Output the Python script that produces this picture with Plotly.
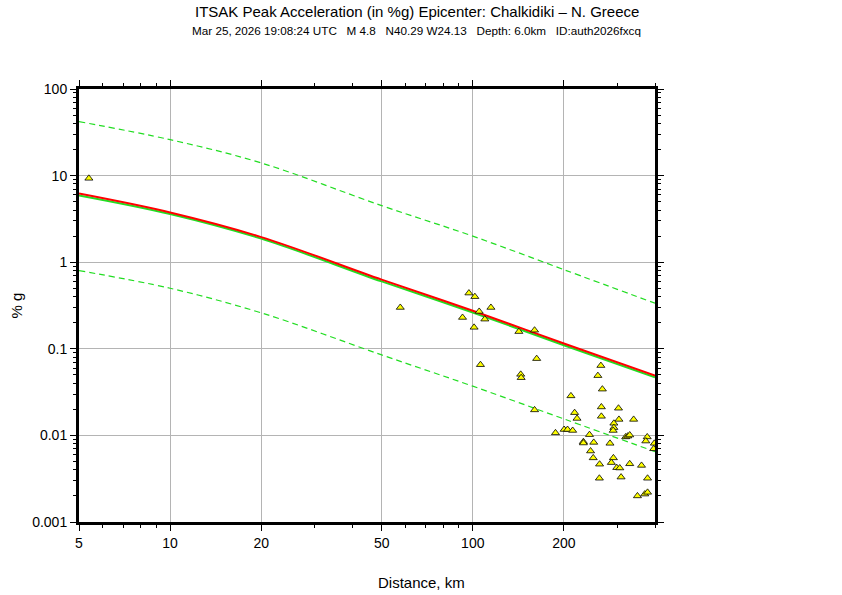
import numpy as np
import plotly.graph_objects as go

curve_dist = [5, 10, 20, 50, 100, 200, 400]
red_pga = [6.2, 3.75, 1.95, 0.63, 0.275, 0.115, 0.049]
green_pga = [5.9, 3.6, 1.87, 0.60, 0.263, 0.110, 0.047]
upper_pga = [42, 26, 14, 4.5, 2.0, 0.82, 0.336]
lower_pga = [0.80, 0.50, 0.26, 0.085, 0.037, 0.0155, 0.0065]

# Station observations
sta_dist = [5.39, 57.6, 97.1, 101.6, 114.8, 105, 92.5, 109.6, 101, 142, 160,
            162.6, 106, 144, 144.5, 265, 259, 268, 211, 160, 217, 221, 266,
            266, 303, 304, 340, 292.5, 292.5, 291, 187.6, 200.4, 205.6, 213.8,
            243, 232, 232, 251, 284, 320, 325, 330, 377, 373, 398, 396, 245,
            250, 291.5, 287, 262.4, 299, 306, 330, 361, 262, 309, 378, 350,
            370, 378]
sta_pga = [9.3, 0.30, 0.44, 0.40, 0.30, 0.27, 0.23, 0.22, 0.177, 0.158, 0.164,
           0.077, 0.0655, 0.0507, 0.0464, 0.064, 0.049, 0.0342, 0.0286, 0.0197,
           0.0183, 0.0157, 0.0213, 0.0166, 0.0206, 0.0153, 0.0153, 0.0138,
           0.0123, 0.0114, 0.0107, 0.0117, 0.0117, 0.0114, 0.0102, 0.00845,
           0.00817, 0.0083, 0.0081, 0.0096, 0.0098, 0.0101, 0.0096, 0.0086,
           0.0081, 0.0070, 0.0066, 0.0055, 0.0055, 0.00485, 0.00465, 0.00424,
           0.0042, 0.0047, 0.0045, 0.0032, 0.0033, 0.0032, 0.0020, 0.0021,
           0.0022]

x_ticks = [5, 10, 20, 50, 100, 200]
y_ticks = [0.001, 0.01, 0.1, 1, 10, 100]
y_labels = ["0.001", "0.01", "0.1", "1", "10", "100"]

title = "ITSAK Peak Acceleration (in %g) Epicenter: Chalkidiki \u2013 N. Greece"
sp = "\u00a0\u00a0\u00a0"
subtitle = ("Mar 25, 2026 19:08:24 UTC" + sp + "M 4.8" + sp + "N40.29 W24.13"
            + sp + "Depth: 6.0km" + sp + "ID:auth2026fxcq")

GREEN = "#22dd22"

fig = go.Figure()

# Dashed bounds
for vals in (upper_pga, lower_pga):
    fig.add_trace(go.Scatter(
        x=curve_dist, y=vals, mode="lines", line_shape="spline",
        line=dict(color=GREEN, width=1.2, dash="6px,4px"),
    ))

# Median curves: green under red
fig.add_trace(go.Scatter(
    x=curve_dist, y=green_pga, mode="lines", line_shape="spline",
    line=dict(color=GREEN, width=2),
))
fig.add_trace(go.Scatter(
    x=curve_dist, y=red_pga, mode="lines", line_shape="spline",
    line=dict(color="#ff0000", width=2),
))

# Stations
fig.add_trace(go.Scatter(
    x=sta_dist, y=sta_pga, mode="markers", cliponaxis=True,
    marker=dict(symbol="triangle-up", size=7, color="#ffff00",
                line=dict(color="black", width=0.8)),
))

axis_common = dict(
    type="log",
    showline=True,
    linewidth=3,
    linecolor="black",
    mirror="ticks",
    ticks="outside",
    ticklen=6,
    tickwidth=1,
    tickcolor="black",
    showgrid=True,
    gridcolor="#b4b4b4",
    gridwidth=1,
    zeroline=False,
    tickfont=dict(size=14, color="black"),
    minor=dict(ticks="outside", ticklen=3, tickcolor="black", dtick="D1",
               showgrid=False),
)

fig.update_xaxes(
    **axis_common,
    range=[np.log10(5), np.log10(400)],
    tickmode="array",
    tickvals=x_ticks,
    ticktext=[str(v) for v in x_ticks],
)
fig.update_yaxes(
    **axis_common,
    range=[-3, 2],
    tickmode="array",
    tickvals=y_ticks,
    ticktext=y_labels,
)

fig.update_layout(
    width=842,
    height=595,
    showlegend=False,
    plot_bgcolor="white",
    paper_bgcolor="white",
    font=dict(family="Liberation Sans, Arial, sans-serif", color="black"),
    margin=dict(l=79, r=187, t=89, b=73),
    hovermode=False,
)

# Titles (centred on the page, not the plot)
fig.add_annotation(text=title, xref="paper", yref="paper", x=(417 - 79) / 576,
                   y=1 + (89 - 12) / 433, showarrow=False, xanchor="center",
                   yanchor="middle", font=dict(size=15))
fig.add_annotation(text=subtitle, xref="paper", yref="paper", x=(416 - 79) / 576,
                   y=1 + (89 - 31) / 433, showarrow=False, xanchor="center",
                   yanchor="middle", font=dict(size=11.7))
fig.add_annotation(text="Distance, km", xref="paper", yref="paper",
                   x=(421 - 79) / 576, y=-(582 - 522) / 433, showarrow=False,
                   xanchor="center", yanchor="middle", font=dict(size=15))
fig.add_annotation(text="% g", xref="paper", yref="paper", x=-(79 - 16) / 576,
                   y=0.5, showarrow=False, textangle=-90, xanchor="center",
                   yanchor="middle", font=dict(size=15))

# drop the default body margin so the figure sits at the page corner
fig.write_html("out.html", config={"displayModeBar": False},
               post_script="document.body.style.margin = '0';")
